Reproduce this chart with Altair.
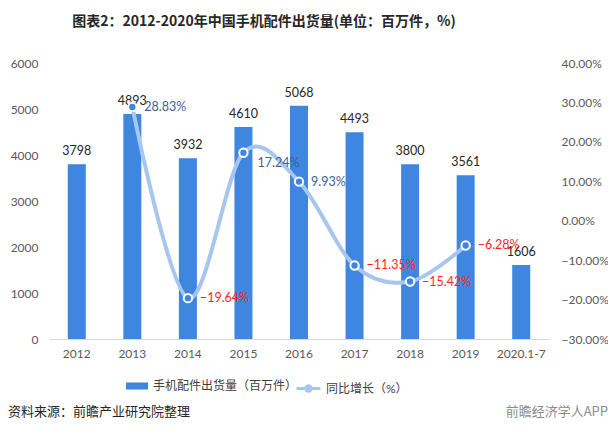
import altair as alt
import pandas as pd

years = ["2012", "2013", "2014", "2015", "2016", "2017", "2018", "2019", "2020.1-7"]
shipments = [3798, 4893, 3932, 4610, 5068, 4493, 3800, 3561, 1606]
growth = [None, 28.83, -19.64, 17.24, 9.93, -11.35, -15.42, -6.28, None]

bar_name = "手机配件出货量（百万件）"
line_name = "同比增长（%）"
title_text = "图表2：2012-2020年中国手机配件出货量(单位：百万件，%)"
source_text = "资料来源：前瞻产业研究院整理"
brand_text = "前瞻经济学人APP"

df = pd.DataFrame({
    "year": years,
    "ship": shipments,
    "growth": growth,
    "s1": [bar_name] * len(years),
    "s2": [line_name] * len(years),
})

BLUE = "#3e86df"
LIGHT = "#a6c6ef"
FONT = "Lato, Noto Sans CJK SC"

base = alt.Chart(df).encode(
    x=alt.X("year:N", sort=years,
            scale=alt.Scale(paddingInner=0, paddingOuter=0),
            axis=alt.Axis(title=None, labelAngle=0, ticks=False, domainColor="#d9d9d9",
                          labelPadding=9, labelFontSize=12, labelColor="#595959", labelFont=FONT))
)

yl = alt.Y("ship:Q", scale=alt.Scale(domain=[0, 6000], nice=False),
           axis=alt.Axis(title=None, values=[0, 1000, 2000, 3000, 4000, 5000, 6000], format="d",
                         domain=False, ticks=False, grid=False, labelPadding=11,
                         labelFontSize=12, labelColor="#595959", labelFont=FONT))

bars = base.mark_bar(size=18).encode(
    y=yl,
    color=alt.Color("s1:N", scale=alt.Scale(domain=[bar_name], range=[BLUE]),
                    legend=alt.Legend(title=None, orient="none", legendX=77, legendY=312,
                                      direction="horizontal",
                                      symbolType="M-1,-0.32H1V0.32H-1Z", symbolSize=484,
                                      symbolStrokeWidth=0, labelFontSize=12,
                                      labelColor="#404040", labelFont=FONT, labelOffset=5)),
)

bar_text = base.mark_text(baseline="bottom", dy=-6, fontSize=12.5, color="#262626", font=FONT).encode(
    y=yl,
    text=alt.Text("ship:Q", format="d"),
)

yr = alt.Y("growth:Q", scale=alt.Scale(domain=[-30, 40], nice=False),
           axis=alt.Axis(title=None, orient="right", values=[-30, -20, -10, 0, 10, 20, 30, 40],
                         labelExpr="format(datum.value, '.2f') + '%'",
                         domain=False, ticks=False, grid=False, labelPadding=12,
                         labelFontSize=12, labelColor="#595959", labelFont=FONT))

gbase = base.transform_filter("isValid(datum.growth)")

line = gbase.mark_line(interpolate="cardinal", strokeWidth=4).encode(
    y=yr,
    stroke=alt.Stroke("s2:N", scale=alt.Scale(domain=[line_name], range=[LIGHT]),
                      legend=alt.Legend(title=None, orient="none", legendX=246, legendY=312,
                                        direction="horizontal",
                                        symbolType="M-1,0H1M0.22,0A0.22,0.22 0 1,1 -0.22,0A0.22,0.22 0 1,1 0.22,0",
                                        symbolSize=576, symbolStrokeWidth=3,
                                        labelFontSize=12, labelColor="#404040",
                                        labelFont=FONT, labelOffset=4)),
)

points = gbase.mark_point(shape="circle", filled=True, size=70, fill=BLUE,
                          stroke="white", strokeWidth=2, opacity=1).encode(
    y=yr,
)

pct_color = alt.condition("datum.growth < 0", alt.value("#ff1f1f"), alt.value("#3d5f96"))

labels = gbase.transform_filter("datum.year != '2015'").transform_calculate(
    lbl="format(datum.growth, '.2f') + '%'"
).mark_text(align="left", baseline="middle", dx=12, fontSize=12.5, font=FONT).encode(
    y=yr,
    text="lbl:N",
    color=pct_color,
)

labels2 = gbase.transform_filter("datum.year == '2015'").transform_calculate(
    lbl="format(datum.growth, '.2f') + '%'"
).mark_text(align="left", baseline="middle", dx=14, dy=10, fontSize=12.5, font=FONT).encode(
    y=yr,
    text="lbl:N",
    color=pct_color,
)

foot = alt.Chart(pd.DataFrame({"t": [source_text]})).mark_text(
    align="left", baseline="middle", fontSize=13, color="#262626", font="Noto Sans CJK SC"
).encode(x=alt.value(-41), y=alt.value(349), text="t:N")

brand = alt.Chart(pd.DataFrame({"t": [brand_text]})).mark_text(
    align="right", baseline="middle", fontSize=13, color="#8c8c8c", font="Noto Sans CJK SC"
).encode(x=alt.value(559), y=alt.value(349), text="t:N")

left = alt.layer(bars, bar_text)
right = alt.layer(line, points, labels, labels2)

chart = alt.layer(left, right, foot, brand).resolve_scale(
    y="independent", color="independent", stroke="independent"
).properties(
    width=500, height=276,
    padding={"left": 41, "right": 59, "top": 55, "bottom": 87},
    autosize=alt.AutoSizeParams(type="none"),
    title=alt.TitleParams(title_text, font="Noto Sans CJK SC", fontSize=14, fontWeight="bold",
                          color="#262626", anchor="middle", dx=-35, offset=28),
).configure(background="white").configure_view(stroke=None)

chart.save("out.html", embed_options={"renderer": "svg", "actions": False})
